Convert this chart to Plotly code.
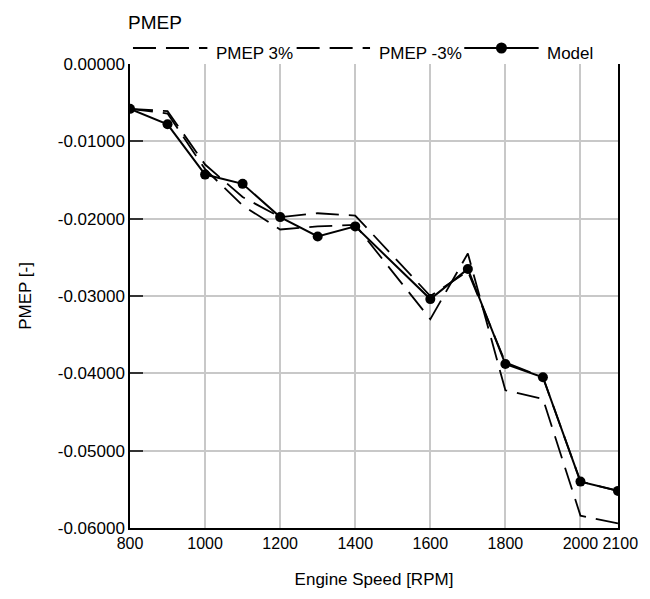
import plotly.graph_objects as go

rpm = [800, 900, 1000, 1100, 1200, 1300, 1400, 1600, 1700, 1800, 1900, 2000, 2100]
pmep_model = [-0.0058, -0.0078, -0.0143, -0.0155, -0.0198, -0.0223, -0.0210,
              -0.0304, -0.0265, -0.0388, -0.0405, -0.0540, -0.0552]
pmep_plus3 = [-0.0058, -0.0061, -0.0130, -0.0172, -0.0198, -0.0193, -0.0196,
              -0.0300, -0.0268, -0.0386, -0.0405, -0.0540, -0.0552]
pmep_minus3 = [-0.0058, -0.0064, -0.0136, -0.0183, -0.0214, -0.0210, -0.0208,
               -0.0330, -0.0245, -0.0422, -0.0433, -0.0584, -0.0594]

x_tickvals = [800, 1000, 1200, 1400, 1600, 1800, 2000, 2100]
x_ticktext = ["800", "1000", "1200", "1400", "1600", "1800", "2000", "\u00a02100"]
y_tickvals = [0.0, -0.01, -0.02, -0.03, -0.04, -0.05, -0.06]
y_ticktext = ["0.00000", "-0.01000", "-0.02000", "-0.03000", "-0.04000", "-0.05000", "-0.06000"]

FONT = "Liberation Sans, Arial, sans-serif"
DASH = "23px,10px"

fig = go.Figure()
fig.add_trace(go.Scatter(x=rpm, y=pmep_plus3, mode="lines", name="PMEP 3%",
                         line=dict(color="black", width=1.8, dash=DASH), showlegend=False))
fig.add_trace(go.Scatter(x=rpm, y=pmep_minus3, mode="lines", name="PMEP -3%",
                         line=dict(color="black", width=1.8, dash=DASH), showlegend=False))
fig.add_trace(go.Scatter(x=rpm, y=pmep_model, mode="lines+markers", name="Model",
                         line=dict(color="black", width=2),
                         marker=dict(color="black", size=10), showlegend=False))

# plot area: x 130..622 px, y 64..528 px
def px_x(p):
    return (p - 130) / 492.0

def px_y(p):
    return (528 - p) / 464.0

shapes = []
annotations = []
ly = px_y(48)
ty = px_y(54)
legend_items = [
    (133, 208, 215, "PMEP 3%", DASH, False),
    (298, 372, 379, "PMEP -3%", DASH, False),
    (467, 542, 548, "Model", "solid", True),
]
for x0, x1, xt, label, dash, dot in legend_items:
    shapes.append(dict(type="line", xref="paper", yref="paper",
                       x0=px_x(x0), x1=px_x(x1), y0=ly, y1=ly,
                       line=dict(color="black", width=2.2, dash=dash)))
    if dot:
        shapes.append(dict(type="circle", xref="paper", yref="paper",
                           xsizemode="pixel", ysizemode="pixel",
                           xanchor=px_x((x0 + x1) / 2), yanchor=ly,
                           x0=-5.5, x1=5.5, y0=-5.5, y1=5.5,
                           fillcolor="black", line=dict(color="black", width=0)))
    annotations.append(dict(text=label, xref="paper", yref="paper", x=px_x(xt), y=ty,
                            xanchor="left", yanchor="middle", showarrow=False,
                            font=dict(size=17, color="black", family=FONT)))

fig.update_layout(
    width=650, height=599,
    margin=dict(l=130, r=28, t=64, b=71),
    paper_bgcolor="white", plot_bgcolor="white",
    font=dict(family=FONT, color="black", size=17),
    title=dict(text="PMEP", x=128 / 650, xanchor="left", xref="container",
               y=1 - 22 / 599, yanchor="middle", yref="container",
               font=dict(size=19, color="black", family=FONT)),
    shapes=shapes,
    annotations=annotations,
    showlegend=False,
)
fig.update_xaxes(range=[800, 2100], tickvals=x_tickvals, ticktext=x_ticktext, tickangle=0,
                 showgrid=True, gridcolor="#c8c8c8", gridwidth=2,
                 showline=True, linecolor="black", linewidth=1.5, mirror=False,
                 ticks="", tickfont=dict(size=16),
                 title=dict(text="Engine Speed [RPM]", font=dict(size=17), standoff=22),
                 zeroline=False)
fig.update_yaxes(range=[-0.06, 0.0], tickvals=y_tickvals, ticktext=y_ticktext,
                 showgrid=True, gridcolor="#c8c8c8", gridwidth=2,
                 showline=True, linecolor="black", linewidth=1.5, mirror=True,
                 ticks="inside", ticklen=13, tickcolor="#333333", tickwidth=1.5,
                 tickfont=dict(size=17),
                 title=dict(text="PMEP [-]", font=dict(size=17), standoff=22),
                 zeroline=False)

fig.write_html("out.html")
